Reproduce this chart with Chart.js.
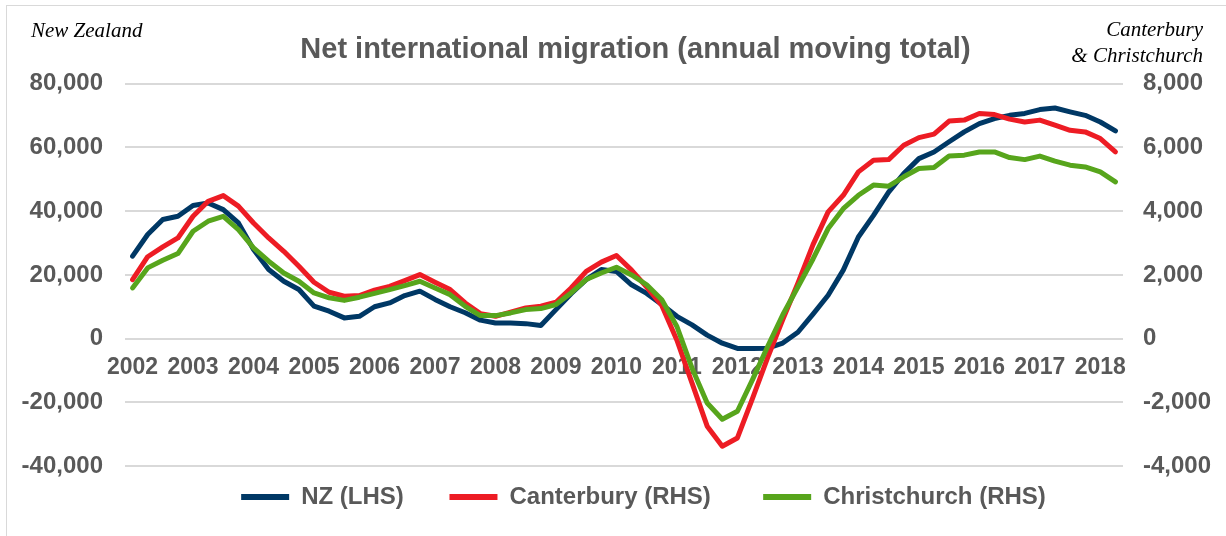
<!DOCTYPE html>
<html>
<head>
<meta charset="utf-8">
<script src="https://cdn.jsdelivr.net/npm/chart.js@4"></script>
<style>
  body { margin: 0; background: #fff; }
  #wrap { position: relative; width: 1226px; height: 536px; }
  #frame { position: absolute; left: 6px; top: 5px; right: 0; bottom: 0;
           border-left: 1px solid #d9d9d9; border-top: 1px solid #d9d9d9; }
  .note { position: absolute; font-family: "Liberation Serif", "Times New Roman", serif;
          font-style: italic; font-size: 21px; color: #000; line-height: 26px; }
</style>
</head>
<body>
<div id="wrap">
  <div id="frame"></div>
  <canvas id="myChart"></canvas>
  <div class="note" style="left:31px; top:17px;">New Zealand</div>
  <div class="note" style="right:23px; top:16px; text-align:right;">Canterbury<br>&amp; Christchurch</div>
</div>
<script>
// tick labels, one per year (quarterly data starts 2002)
var yearLabels = ['2002', '2003', '2004', '2005', '2006', '2007', '2008', '2009', '2010',
                  '2011', '2012', '2013', '2014', '2015', '2016', '2017', '2018'];

// NZ, annual moving total (left axis)
var nzValues = [25900, 32700, 37400, 38400, 41800, 42600, 40500, 36300, 28000, 21700,
                18000, 15400, 10200, 8600, 6500, 7000, 10000, 11200, 13500, 14900,
                12300, 10000, 8100, 5800, 4900, 4900, 4700, 4100, 9100, 14100,
                18500, 21700, 21100, 16900, 14200, 10700, 7000, 4300, 1100, -1450,
                -3100, -3100, -3000, -1400, 2000, 7700, 13600, 21500, 31900, 38700,
                46000, 51800, 56500, 58600, 61800, 64900, 67500, 69100, 70100, 70700,
                71900, 72400, 71200, 70100, 68000, 65200];

// Canterbury (right axis)
var canterburyValues = [1850, 2570, 2880, 3160, 3840, 4310, 4490, 4160, 3630, 3160,
                        2740, 2270, 1770, 1455, 1330, 1350, 1520, 1640, 1820, 2010,
                        1770, 1540, 1120, 785, 700, 830, 960, 1015, 1140, 1590,
                        2110, 2400, 2610, 2150, 1615, 1040, -50, -1400, -2750, -3380,
                        -3120, -1880, -600, 600, 1740, 2950, 3980, 4500, 5235, 5600,
                        5620, 6070, 6310, 6420, 6830, 6860, 7070, 7035, 6890, 6800,
                        6860, 6700, 6540, 6490, 6280, 5860];

// Christchurch (right axis)
var christchurchValues = [1590, 2220, 2460, 2670, 3370, 3685, 3840, 3420, 2850, 2430,
                          2060, 1800, 1435, 1280, 1200, 1300, 1420, 1540, 1665, 1800,
                          1590, 1380, 1015, 722, 722, 806, 910, 942, 1068, 1434,
                          1853, 2060, 2240, 2000, 1690, 1220, 380, -930, -2020, -2530,
                          -2280, -1290, -250, 750, 1620, 2500, 3455, 4080, 4500, 4820,
                          4785, 5080, 5340, 5370, 5730, 5760, 5860, 5860, 5685, 5620,
                          5730, 5570, 5445, 5390, 5235, 4920];

// quarter categories, built from the year labels
var quarters = [];
yearLabels.forEach(function(y) {
  ['Q1', 'Q2', 'Q3', 'Q4'].forEach(function(q) { quarters.push(y + ' ' + q); });
});
quarters = quarters.slice(0, nzValues.length);

var grey = '#595959';
var fontFam = '"Liberation Sans", Arial, sans-serif';
var legendGaps = ['    ', '     ', ''];

var ctx = document.getElementById('myChart').getContext('2d');
var myChart = new Chart(ctx, {
  type: 'line',
  data: {
    labels: quarters,
    datasets: [{
      label: 'NZ (LHS)',
      data: nzValues,
      borderColor: '#003865',
      backgroundColor: '#003865',
      yAxisID: 'y',
      order: 3
    }, {
      label: 'Canterbury (RHS)',
      data: canterburyValues,
      borderColor: '#ED1C24',
      backgroundColor: '#ED1C24',
      yAxisID: 'y2',
      order: 2
    }, {
      label: 'Christchurch (RHS)',
      data: christchurchValues,
      borderColor: '#57A51C',
      backgroundColor: '#57A51C',
      yAxisID: 'y2',
      order: 1
    }]
  },
  options: {
    responsive: true,
    maintainAspectRatio: false,
    animation: false,
    // right padding is negative so the title and legend sit a bit right of the middle
    layout: { padding: { left: 0, right: -61, top: 0, bottom: 17 } },
    elements: {
      line: { borderWidth: 5, tension: 0, borderJoinStyle: 'round', borderCapStyle: 'round' },
      point: { radius: 0 }
    },
    plugins: {
      tooltip: { enabled: false },
      title: {
        display: true,
        text: 'Net international migration (annual moving total)  ',
        color: grey,
        font: { family: fontFam, size: 29, weight: 'bold' },
        padding: { top: 33, bottom: 16 }
      },
      legend: {
        position: 'bottom',
        labels: {
          color: grey,
          font: { family: fontFam, size: 24, weight: 'bold' },
          boxWidth: 48,
          boxHeight: 6,
          padding: 19,
          sort: function(a, b) { return a.datasetIndex - b.datasetIndex; },
          generateLabels: function(chart) {
            var items = Chart.defaults.plugins.legend.labels.generateLabels(chart);
            items.forEach(function(it) {
              it.lineWidth = 0;
              it.text = it.text + legendGaps[it.datasetIndex];
            });
            return items;
          }
        }
      }
    },
    scales: {
      x: {
        position: { y: 0 },
        offset: true,
        grid: { display: false },
        border: { display: false },
        ticks: {
          autoSkip: false,
          maxRotation: 0,
          minRotation: 0,
          padding: 7,
          color: grey,
          font: { family: fontFam, size: 23, weight: 'bold' },
          callback: function(v, i) { return i % 4 === 0 ? yearLabels[i / 4] : ''; }
        }
      },
      y: {
        position: 'left',
        min: -40000,
        max: 80000,
        grid: { color: '#d9d9d9', lineWidth: 2, drawTicks: false },
        border: { display: false },
        ticks: {
          stepSize: 20000,
          padding: 22,
          color: grey,
          font: { family: fontFam, size: 24, weight: 'bold' }
        },
        afterFit: function(scale) { scale.width = 125; }
      },
      y2: {
        position: 'right',
        min: -4000,
        max: 8000,
        grid: { display: false, drawTicks: false },
        border: { display: false },
        ticks: {
          stepSize: 2000,
          padding: 20,
          color: grey,
          font: { family: fontFam, size: 24, weight: 'bold' }
        },
        afterFit: function(scale) { scale.width = 164; }
      }
    }
  }
});
</script>
</body>
</html>
